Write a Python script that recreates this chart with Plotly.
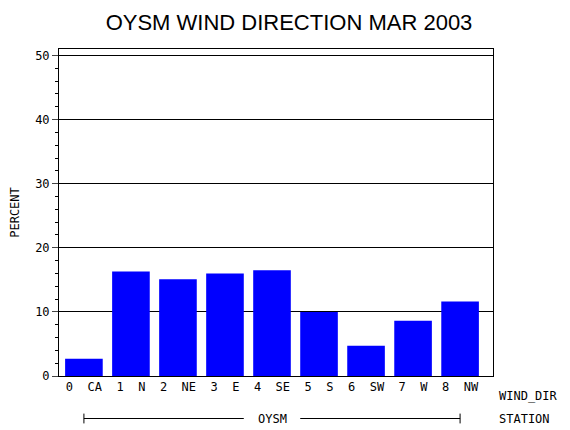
import plotly.graph_objects as go

categories = ["0  CA", "1  N", "2  NE", "3  E", "4  SE", "5  S", "6  SW", "7  W", "8  NW"]
percent = [2.7, 16.3, 15.1, 16.0, 16.5, 10.0, 4.7, 8.6, 11.6]
station = "OYSM"
yticks = [0, 10, 20, 30, 40, 50]

mono = "DejaVu Sans Mono"
fig = go.Figure(go.Bar(x=list(range(len(categories))), y=percent, width=0.8,
                       marker=dict(color="#0000ff", line=dict(width=0))))
fig.update_layout(
    width=562, height=422, paper_bgcolor="white", plot_bgcolor="white",
    margin=dict(l=51, r=77, t=41, b=54, autoexpand=False), showlegend=False,
    title=dict(text="OYSM WIND DIRECTION MAR 2003", x=0.5, xanchor="center", y=0.985, yanchor="top",
               font=dict(family="Liberation Sans", size=22, color="black")),
    font=dict(family=mono, size=12, color="black"),
)
fig.update_xaxes(range=[-0.53, 8.7], tickvals=list(range(len(categories))), ticktext=categories,
                 showline=True, linecolor="black", mirror=True, ticks="", showgrid=False,
                 automargin=False, tickfont=dict(family=mono, size=12))
fig.update_yaxes(range=[0, 51], tickvals=yticks, showline=True, linecolor="black", mirror=True,
                 ticks="outside", ticklen=6, showgrid=True, gridcolor="black", gridwidth=1,
                 automargin=False,
                 minor=dict(ticks="outside", ticklen=3, dtick=2, tickcolor="black", showgrid=False),
                 title=dict(text="PERCENT", font=dict(family=mono, size=12)), zeroline=False)
fig.add_annotation(text="WIND_DIR", xref="paper", yref="paper", x=1.01, y=-0.06,
                   xanchor="left", yanchor="middle", showarrow=False, font=dict(family=mono, size=12))
fig.add_annotation(text="STATION", xref="paper", yref="paper", x=1.01, y=-0.13,
                   xanchor="left", yanchor="middle", showarrow=False, font=dict(family=mono, size=12))
fig.add_shape(type="line", xref="x", yref="paper", x0=0, x1=4 - 0.6, y0=-0.13, y1=-0.13,
              line=dict(color="black", width=1))
fig.add_shape(type="line", xref="x", yref="paper", x0=4 + 0.6, x1=8, y0=-0.13, y1=-0.13,
              line=dict(color="black", width=1))
for xe in (0, 8):
    fig.add_shape(type="line", xref="x", yref="paper", x0=xe, x1=xe, y0=-0.115, y1=-0.145,
                  line=dict(color="black", width=1))
fig.add_annotation(text=station, xref="x", yref="paper", x=4, y=-0.13, showarrow=False,
                   yanchor="middle", font=dict(family=mono, size=12))
fig.write_html("out.html")
